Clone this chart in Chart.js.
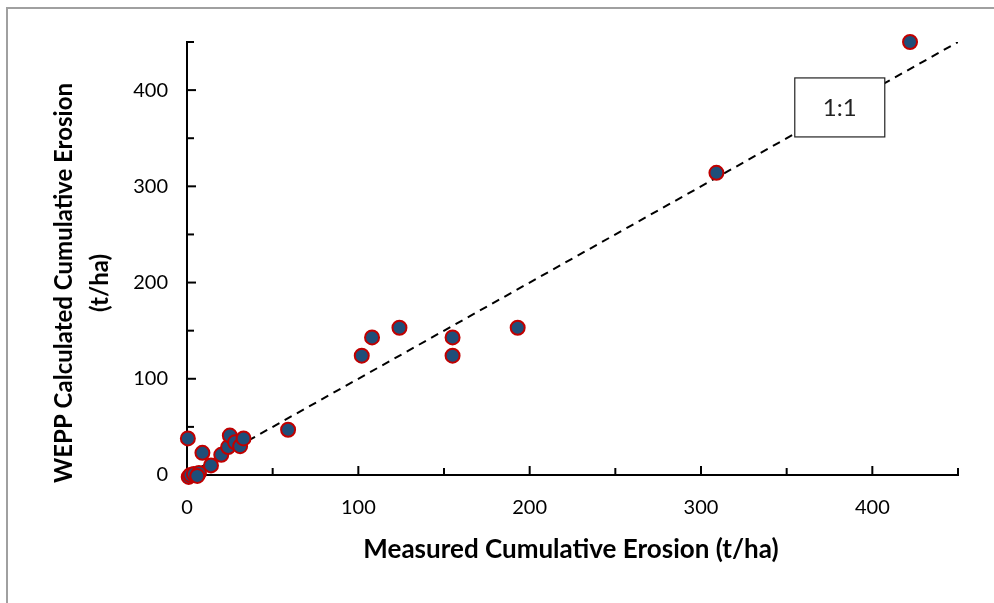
<!DOCTYPE html>
<html lang="en">
<head>
  <meta charset="UTF-8" />
  <title>WEPP vs Measured Erosion</title>
  <script src="https://cdn.jsdelivr.net/npm/chart.js"></script>
  <style>
    html, body { margin: 0; padding: 0; background: #fff; overflow: hidden; }
    #wrap { position: relative; width: 994px; height: 603px; overflow: hidden; }
    #frame { position: absolute; left: 6px; top: 7px; width: 1100px; height: 700px;
             border-left: 2px solid #a0a0a0; border-top: 2px solid #a0a0a0; }
    canvas { position: absolute; left: 0; top: 0; }
  </style>
</head>
<body>
  <div id="wrap">
    <div id="frame"></div>
    <canvas id="chart" width="994" height="603"></canvas>
  </div>

  <script>
    // measured vs WEPP calculated cumulative erosion (t/ha)
    const measured   = [0.5, 1, 2, 4, 7, 6, 9, 14, 20, 24, 25, 28, 31, 33, 59, 102, 108, 124, 155, 155, 193, 309, 422];
    const calculated = [38, -2, 0, 1, 2, -1, 23, 10, 21, 29, 41, 34, 30, 38, 47, 124, 143, 153, 143, 124, 153, 314, 450];
    const oneToOne = [0, 450];
    const axisMin = 0, axisMax = 450, tickStep = 50, labelStep = 100;
    const xTitle = 'Measured Cumulative Erosion (t/ha)';
    const yTitle = ['WEPP Calculated Cumulative Erosion', '(t/ha)'];
    const ratioLabel = '1:1';

    const FONT = 'Lato';

    // inward ticks, titles and the 1:1 label box
    const decor = {
      id: 'decor',
      beforeDatasetsDraw(chart) {
        const ctx = chart.ctx, xs = chart.scales.x, ys = chart.scales.y;
        ctx.save();
        ctx.strokeStyle = '#000';
        ctx.lineWidth = 2;
        for (let v = axisMin; v <= axisMax; v += tickStep) {
          const len = v % labelStep === 0 ? 9 : 7;
          const px = xs.getPixelForValue(v);
          ctx.beginPath();
          ctx.moveTo(px, ys.bottom);
          ctx.lineTo(px, ys.bottom - len);
          ctx.stroke();
          const py = ys.getPixelForValue(v);
          ctx.beginPath();
          ctx.moveTo(xs.left, py);
          ctx.lineTo(xs.left + len, py);
          ctx.stroke();
        }
        ctx.restore();
      },
      afterDatasetsDraw(chart) {
        const ctx = chart.ctx, xs = chart.scales.x, ys = chart.scales.y;
        const cx = xs.getPixelForValue(381), cy = ys.getPixelForValue(382);
        const w = 90, h = 59;
        ctx.save();
        ctx.fillStyle = '#fff';
        ctx.fillRect(cx - w / 2, cy - h / 2, w, h);
        ctx.strokeStyle = '#222';
        ctx.lineWidth = 1.2;
        ctx.strokeRect(cx - w / 2, cy - h / 2, w, h);
        ctx.fillStyle = '#222';
        ctx.font = '24px ' + FONT;
        ctx.textAlign = 'center';
        ctx.textBaseline = 'middle';
        ctx.fillText(ratioLabel, cx, cy + 1);
        ctx.restore();
      },
      afterDraw(chart) {
        const ctx = chart.ctx;
        ctx.save();
        ctx.fillStyle = '#000';
        ctx.textAlign = 'center';
        ctx.textBaseline = 'middle';
        ctx.font = 'bold 26px ' + FONT;
        ctx.fillText(xTitle, 571, 550);
        ctx.font = 'bold 24px ' + FONT;
        ctx.translate(0, 283);
        ctx.rotate(-Math.PI / 2);
        ctx.fillText(yTitle[0], 0, 64);
        ctx.fillText(yTitle[1], 0, 100);
        ctx.restore();
      }
    };

    const axisOpts = (extra) => Object.assign({
      type: 'linear',
      min: axisMin,
      max: axisMax,
      grid: { display: true, drawOnChartArea: false, drawTicks: false },
      border: { display: true, color: '#000', width: 2 },
      ticks: {
        stepSize: tickStep,
        color: '#000',
        font: { family: FONT, size: 20 },
        callback: v => (v % labelStep === 0 ? v : '')
      }
    }, extra);

    new Chart(document.getElementById('chart'), {
      type: 'scatter',
      data: {
        datasets: [
          {
            label: 'Observations',
            data: measured.map((m, i) => ({ x: m, y: calculated[i] })),
            backgroundColor: '#1f4e79',
            borderColor: '#c00000',
            borderWidth: 2,
            pointRadius: 7,
            order: 1,
            clip: false
          },
          {
            label: '1:1',
            type: 'line',
            data: oneToOne.map(v => ({ x: v, y: v })),
            borderColor: '#000',
            borderWidth: 2,
            borderDash: [8, 6],
            pointRadius: 0,
            fill: false,
            order: 2
          }
        ]
      },
      options: {
        responsive: false,
        animation: false,
        layout: { padding: { left: 0, top: 42, right: 36, bottom: 0 } },
        plugins: { legend: { display: false }, tooltip: { enabled: false } },
        scales: {
          x: axisOpts({
            position: 'bottom',
            afterFit: s => { s.height = 128; }
          }),
          y: axisOpts({
            position: 'left',
            afterFit: s => { s.width = 187; }
          })
        }
      },
      plugins: [decor]
    });

    // tick label spacing
    const ch = Chart.getChart('chart');
    ch.options.scales.x.ticks.padding = 21;
    ch.options.scales.y.ticks.padding = 19;
    ch.update();
  </script>
</body>
</html>
